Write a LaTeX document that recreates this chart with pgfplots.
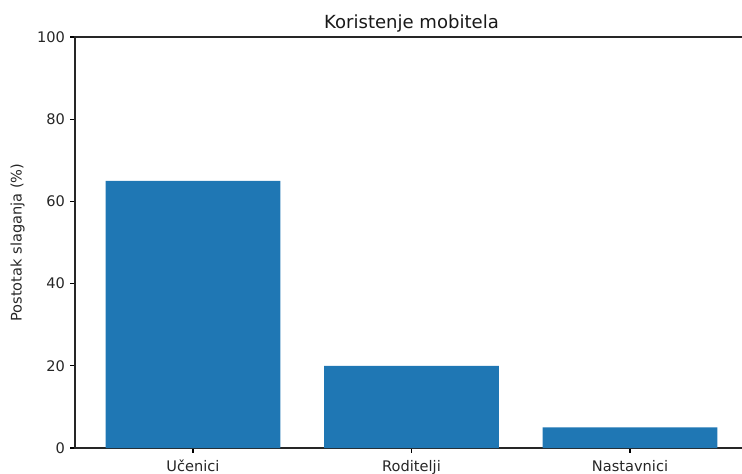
\documentclass[border=0pt]{standalone}
\usepackage{fontspec}
\setmainfont{DejaVu Sans}
\usepackage{pgfplots}
\pgfplotsset{compat=1.18}
\definecolor{mplblue}{HTML}{1F77B4}
\begin{document}
\begin{tikzpicture}
\useasboundingbox (0,0) rectangle (534.24pt,340.56pt);
\clip (0,0) rectangle (534.24pt,340.56pt);
\begin{axis}[
  at={(54pt,18pt)}, anchor=south west,
  scale only axis, width=484.56pt, height=295.92pt,
  xmin=-0.54, xmax=2.54, ymin=0, ymax=100,
  xtick={0,1,2}, xticklabels={Učenici,Roditelji,Nastavnici},
  ytick={0,20,...,100},
  tick align=outside, major tick length=3.5pt,
  tick style={black, line width=0.8pt},
  axis line style={black!85, line width=0.8pt},
  xtick pos=bottom, ytick pos=left,
  /pgf/number format/assume math mode=true,
  ticklabel style={font=\fontsize{10.5}{12}\selectfont, text=black!85},
  xticklabel style={inner sep=0pt, anchor=north, yshift=-5pt},
  yticklabel style={inner sep=0pt, anchor=east, xshift=-3.5pt},
  title={Koristenje mobitela},
  title style={font=\fontsize{13}{15}\selectfont, text=black!90, at={(axis description cs:0.5,1)}, anchor=base, inner sep=0pt},
  ylabel={Postotak slaganja (\%)},
  ylabel style={font=\fontsize{10.5}{12}\selectfont, text=black!85, at={(axis description cs:-0.0743,0.5)}, anchor=south, inner sep=0pt},
]
\addplot[ybar, bar width=0.8, fill=mplblue, draw=none] coordinates {(0,65) (1,20) (2,5)};
\end{axis}
\end{tikzpicture}
\end{document}
